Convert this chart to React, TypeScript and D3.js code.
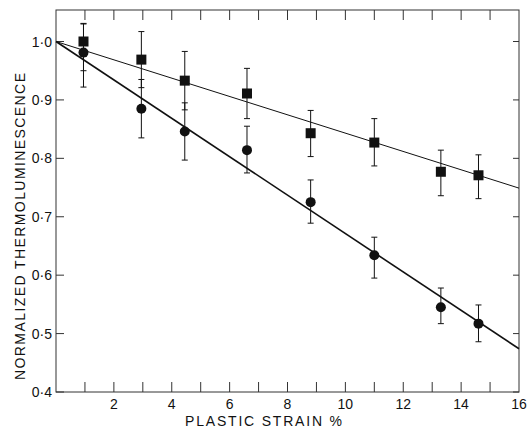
import React from "react";
import * as d3 from "d3";

const strain = [0.95, 2.95, 4.45, 6.6, 8.8, 11.0, 13.3, 14.6];
const squareVals = [1.0, 0.969, 0.933, 0.911, 0.843, 0.827, 0.777, 0.771];
const squareHi = [1.031, 1.017, 0.983, 0.954, 0.882, 0.868, 0.814, 0.806];
const squareLo = [0.95, 0.921, 0.883, 0.868, 0.803, 0.787, 0.736, 0.731];
const circleVals = [0.981, 0.885, 0.846, 0.814, 0.725, 0.634, 0.545, 0.517];
const circleHi = [1.03, 0.935, 0.895, 0.855, 0.763, 0.665, 0.578, 0.549];
const circleLo = [0.922, 0.835, 0.797, 0.775, 0.689, 0.595, 0.517, 0.486];
const squareFit = [[0, 1.0], [16, 0.749]];
const circleFit = [[0, 1.0], [16, 0.474]];
const xTicks = [2, 4, 6, 8, 10, 12, 14, 16];
const xMinor = [1, 2, 3, 4, 5, 6, 7, 8, 9, 10, 11, 12, 13, 14, 15];
const yTicks = [0.4, 0.5, 0.6, 0.7, 0.8, 0.9, 1.0];
const yTickLabels = ["0·4", "0·5", "0·6", "0·7", "0·8", "0·9", "1·0"];

const W = 527, H = 428;
const m = { left: 56, right: 519, top: 10, bottom: 392 };

export default function App() {
  const x = d3.scaleLinear().domain([0, 16]).range([m.left, m.right]);
  const y = d3.scaleLinear().domain([0.4, 1.0]).range([m.bottom, m.bottom - 350.5]);
  const line = d3.line<number[]>().x(d => x(d[0])).y(d => y(d[1]));
  const font = "Liberation Sans, Arial, sans-serif";
  const ink = "#111";

  const errBars = (vals: number[], lo: number[], hi: number[], key: string) =>
    strain.map((s, i) => (
      <g key={key + i} stroke={ink} strokeWidth={1}>
        <line x1={x(s)} x2={x(s)} y1={y(hi[i])} y2={y(lo[i])} />
        <line x1={x(s) - 3} x2={x(s) + 3} y1={y(hi[i])} y2={y(hi[i])} />
        <line x1={x(s) - 3} x2={x(s) + 3} y1={y(lo[i])} y2={y(lo[i])} />
      </g>
    ));

  return (
    <svg width={W} height={H} style={{ position: "absolute", left: 0, top: 0, background: "#fff" }}>
      <rect x={m.left} y={m.top} width={m.right - m.left} height={m.bottom - m.top} fill="none" stroke="#333" strokeWidth={1} />
      {xMinor.map(t => (
        <g key={"mx" + t} stroke="#333" strokeWidth={1}>
          <line x1={x(t)} x2={x(t)} y1={m.bottom} y2={m.bottom - 10} />
          <line x1={x(t)} x2={x(t)} y1={m.top} y2={m.top + 10} />
        </g>
      ))}
      {yTicks.map(t => (
        <g key={"yt" + t} stroke="#333" strokeWidth={1}>
          <line x1={m.left} x2={m.left + 8} y1={y(t)} y2={y(t)} />
          <line x1={m.right} x2={m.right - 6} y1={y(t)} y2={y(t)} />
        </g>
      ))}
      {yTicks.map((t, i) => (
        <text key={"yl" + t} x={52} y={y(t) + 5} textAnchor="end" fontFamily={font} fontSize={14} fill={ink}>
          {yTickLabels[i]}
        </text>
      ))}
      {xTicks.map(t => (
        <text key={"xl" + t} x={x(t)} y={409} textAnchor="middle" fontFamily={font} fontSize={14} fill={ink}>
          {t}
        </text>
      ))}
      <text x={185} y={426} textLength={157} lengthAdjust="spacing" fontFamily={font} fontSize={14} fill={ink}>
        PLASTIC STRAIN %
      </text>
      <text
        transform={`translate(25,380) rotate(-90)`}
        textLength={307}
        lengthAdjust="spacing"
        fontFamily={font}
        fontSize={14}
        fill={ink}
      >
        NORMALIZED  THERMOLUMINESCENCE
      </text>
      <path d={line(squareFit) || ""} fill="none" stroke={ink} strokeWidth={1} />
      <path d={line(circleFit) || ""} fill="none" stroke={ink} strokeWidth={1.6} />
      {errBars(squareVals, squareLo, squareHi, "se")}
      {errBars(circleVals, circleLo, circleHi, "ce")}
      {strain.map((s, i) => (
        <rect key={"sq" + i} x={x(s) - 5} y={y(squareVals[i]) - 5} width={10} height={10} fill={ink} />
      ))}
      {strain.map((s, i) => (
        <circle key={"ci" + i} cx={x(s)} cy={y(circleVals[i])} r={5} fill={ink} />
      ))}
    </svg>
  );
}
